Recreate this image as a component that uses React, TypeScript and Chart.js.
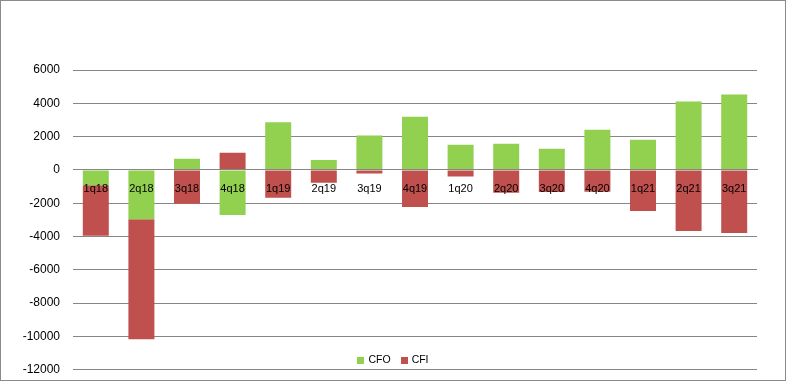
import React, { useEffect, useRef } from "react";
import { Chart, registerables } from "chart.js";

Chart.register(...registerables);

const categories = ["1q18", "2q18", "3q18", "4q18", "1q19", "2q19", "3q19", "4q19", "1q20", "2q20", "3q20", "4q20", "1q21", "2q21", "3q21"];
const cfo = [-920, -2960, 670, -2700, 2860, 600, 2060, 3200, 1510, 1570, 1270, 2420, 1810, 4110, 4530];
const cfi = [-3030, -7210, -2030, 1030, -1670, -770, -220, -2220, -400, -1370, -1330, -1310, -2460, -3670, -3790];
const seriesNames = ["CFO", "CFI"];
const seriesColors = ["#92D050", "#C0504D"];
const yMin = -12000;
const yMax = 6000;
const yStep = 2000;

const FONT = "'Liberation Sans', Arial, sans-serif";

const legendPlugin = {
  id: "bottomLegend",
  afterDraw(chart: any) {
    const ctx = chart.ctx;
    const ds = chart.data.datasets;
    ctx.save();
    ctx.font = `10.5px ${FONT}`;
    ctx.textBaseline = "middle";
    const box = 7;
    const gap = 4;
    const itemGap = 10;
    const widths = ds.map((d: any) => ctx.measureText(d.label).width);
    let total = 0;
    widths.forEach((w: number, i: number) => {
      total += box + gap + w + (i < widths.length - 1 ? itemGap : 0);
    });
    let x = chart.width / 2 - total / 2;
    const cy = 359.5;
    ds.forEach((d: any, i: number) => {
      ctx.fillStyle = d.backgroundColor;
      ctx.fillRect(Math.round(x), Math.round(cy - 4), box, box);
      x += box + gap;
      ctx.fillStyle = "#000";
      ctx.fillText(d.label, x, cy);
      x += widths[i] + itemGap;
    });
    ctx.restore();
  },
};

export default function App() {
  const ref = useRef<HTMLCanvasElement>(null);

  useEffect(() => {
    if (!ref.current) return;
    const chart = new Chart(ref.current, {
      type: "bar",
      data: {
        labels: categories,
        datasets: [
          { label: seriesNames[0], data: cfo, backgroundColor: seriesColors[0], borderWidth: 0 },
          { label: seriesNames[1], data: cfi, backgroundColor: seriesColors[1], borderWidth: 0 },
        ],
      },
      options: {
        animation: false,
        responsive: false,
        layout: { padding: { left: 0, right: 28, top: 69, bottom: 1 } },
        datasets: { bar: { categoryPercentage: 1, barPercentage: 0.57 } } as any,
        plugins: {
          legend: { display: false },
          tooltip: { enabled: false },
          title: { display: false },
        },
        scales: {
          x: {
            stacked: true,
            position: { y: 0 } as any,
            grid: { display: false, drawTicks: false },
            border: { display: true, color: "#868686", width: 1, z: 1 } as any,
            ticks: {
              autoSkip: false,
              maxRotation: 0,
              padding: 12,
              color: "#000",
              z: 1,
              font: { family: FONT, size: 11 },
            } as any,
          },
          y: {
            stacked: true,
            min: yMin,
            max: yMax,
            afterFit: (scale: any) => {
              scale.width = 72;
            },
            grid: { color: "#868686", lineWidth: 1, drawTicks: false },
            border: { display: false },
            ticks: {
              stepSize: yStep,
              padding: 13,
              color: "#000",
              font: { family: FONT, size: 12 },
              callback: (v: any) => String(v),
            },
          },
        },
      },
      plugins: [legendPlugin],
    });
    return () => chart.destroy();
  }, []);

  return (
    <div
      style={{
        position: "fixed",
        left: 0,
        top: 0,
        width: 786,
        height: 381,
        boxSizing: "border-box",
        border: "1px solid #8a8a8a",
        background: "#fff",
        overflow: "hidden",
      }}
    >
      <canvas ref={ref} width={784} height={389} style={{ display: "block", width: 784, height: 389 }} />
    </div>
  );
}
